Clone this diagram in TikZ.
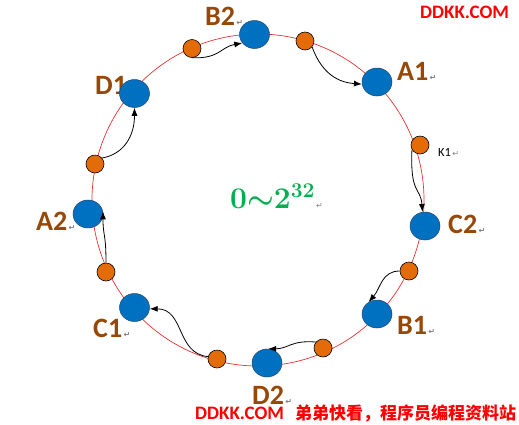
\RequirePackage{fix-cm}
\documentclass[tikz,border=0pt]{standalone}
\usepackage{fontspec}
\newfontfamily\carlito{Carlito}
\newfontfamily\dejavu{DejaVu Sans}
\newfontfamily\cjk{Noto Sans CJK SC}
\usetikzlibrary{arrows.meta,shapes.geometric}
\definecolor{nodeblue}{RGB}{0,112,192}
\definecolor{bordblue}{RGB}{35,70,110}
\definecolor{dotorange}{RGB}{227,108,9}
\definecolor{labbrown}{RGB}{152,72,6}
\definecolor{ringred}{RGB}{235,50,50}
\definecolor{rangegreen}{RGB}{0,176,80}
\newcommand\pmark{{\dejavu\fontsize{8}{8}\selectfont\color{gray}\,↵}}

\begin{document}
\begin{tikzpicture}[x=1pt,y=-1pt,>={Latex[length=8pt,width=6pt]},
        server/.style={ellipse,draw=bordblue,line width=0.5pt,fill=nodeblue,minimum width=30pt,minimum height=28pt,inner sep=0pt},
        keydot/.style={circle,draw=black,line width=0.6pt,fill=dotorange,minimum size=18pt,inner sep=0pt},
        lbl/.style={anchor=base west,inner sep=0pt,text=labbrown,font=\carlito\bfseries\fontsize{28}{30}\selectfont},
        hop/.style={->,line width=0.8pt}]
        \useasboundingbox (0,0) rectangle (519,424);
        \draw[ringred,line width=0.7pt] (258,200) circle[radius=166];
        % labels
        \node[lbl] (lb2) at (205,25) {B2\pmark};
        \node[lbl] (la1) at (397,80) {A1\pmark};
        \node[lbl] (lc2) at (448,233) {C2\pmark};
        \node[lbl] (lb1) at (397,334) {B1\pmark};
        \node[lbl] (ld2) at (252,404) {D2\pmark};
        \node[lbl] (lc1) at (93,337) {C1\pmark};
        \node[lbl] (la2) at (36,230) {A2\pmark};
        \node[lbl] (ld1) at (95,94) {D1};
        \node[anchor=base west,inner sep=0pt,font=\carlito\fontsize{12.5}{14}\selectfont] (lk1) at (438,156) {K1\pmark};
        \node[anchor=base west,inner sep=0pt,text=rangegreen,font=\fontsize{30}{34}\selectfont\boldmath] (range) at (230,208) {$0{\sim}2^{32}$\pmark};
        \node[anchor=base west,inner sep=0pt,text=red,font=\carlito\bfseries\fontsize{19}{21}\selectfont] (site) at (420,18.5) {DDKK.COM};
        \node[anchor=base west,inner sep=0pt,text=red,font=\carlito\bfseries\fontsize{19}{21}\selectfont] (slogan) at (195,419.5) {DDKK.COM\hspace{11pt}{\cjk\bfseries\fontsize{17}{19}\selectfont 弟弟快看，程序员编程资料站}};
        % servers and keys
        \node[server] (b2) at (254.5,34.5) {};
        \node[server] (a1) at (377,82) {};
        \node[server] (c2) at (425,226) {};
        \node[server] (b1) at (377,314) {};
        \node[server] (d2) at (267,363) {};
        \node[server] (c1) at (134.5,307.5) {};
        \node[server] (a2) at (88,214) {};
        \node[server] (d1) at (134.5,93.5) {};
        \node[keydot] (o1) at (192,48.5) {};
        \node[keydot] (o2) at (305,41) {};
        \node[keydot] (k1) at (420,145) {};
        \node[keydot] (o4) at (409,271) {};
        \node[keydot] (o5) at (323,348) {};
        \node[keydot] (o6) at (217,359) {};
        \node[keydot] (o7) at (106,272) {};
        \node[keydot] (o8) at (95,164) {};
        \draw[hop] (o1.south) .. controls +(28,1) and +(-22,4) .. (b2.215);
        \draw[hop] (o2.-40) .. controls +(8,22) and +(-28,-2) .. (a1.188);
        \draw[hop] (k1.210) .. controls +(-2,45) and +(-2,-25) .. (c2.100);
        \draw[hop] (o4.west) .. controls +(-18,0) and +(12,-14) .. (b1.125);
        \draw[hop] (o5.140) .. controls +(-25,-2) and +(20,0) .. (d2.85);
        \draw[hop] (o6.165) .. controls +(-32,-3) and +(35,0) .. (c1.-5);
        \draw[hop] (o7.north) .. controls +(0,-30) and +(0,25) .. (a2.10);
        \draw[hop] (o8.40) .. controls +(22,-4) and +(0,28) .. (d1.south);
    \end{tikzpicture}
\end{document}
